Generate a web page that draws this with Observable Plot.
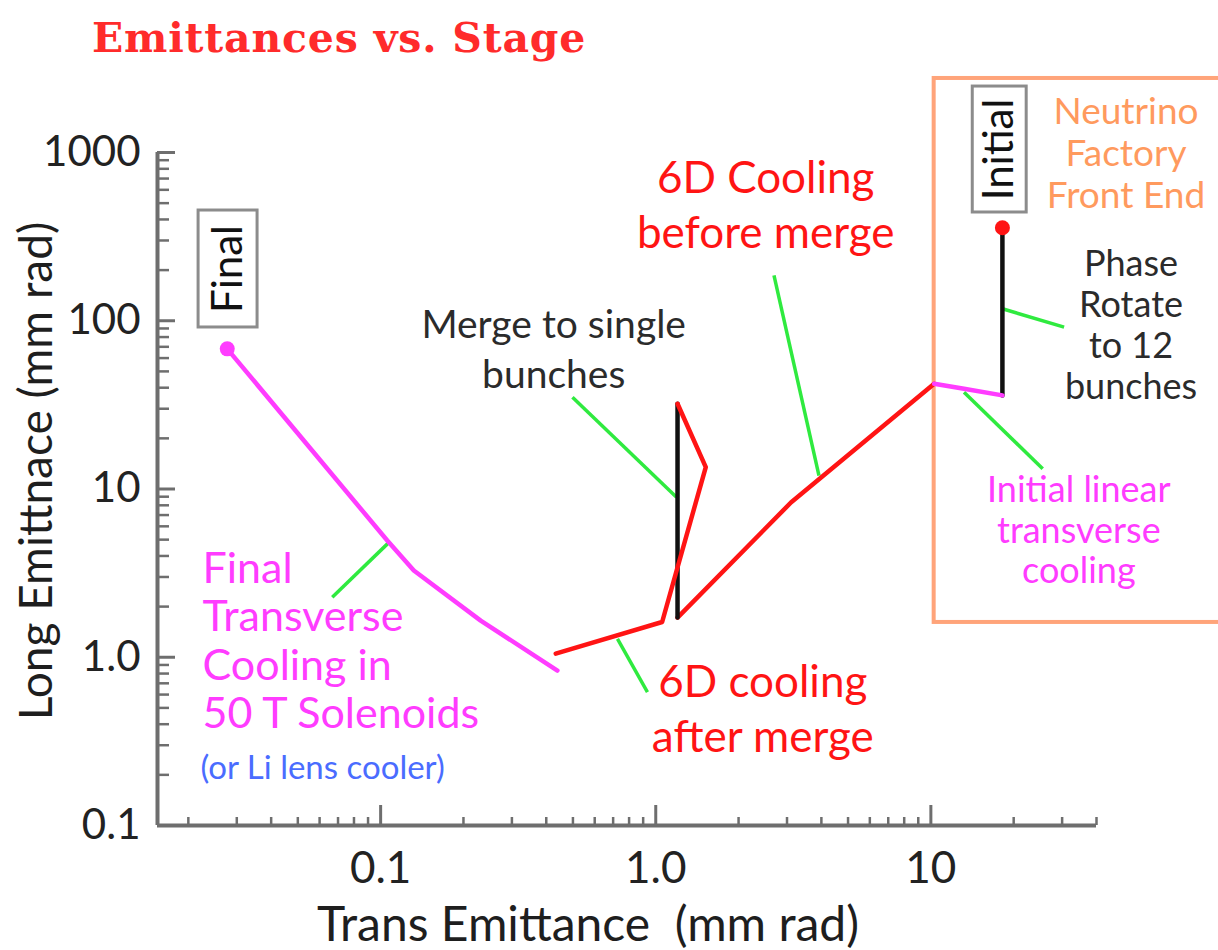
<!DOCTYPE html>
<html>
<head>
<meta charset="utf-8">
<script src="https://cdn.jsdelivr.net/npm/d3@7"></script>
<script src="https://cdn.jsdelivr.net/npm/@observablehq/plot@0.6"></script>
<style>
  html, body { margin: 0; padding: 0; background: #fff; }
  #wrap { position: relative; width: 1218px; height: 950px; overflow: hidden; }
  #chart svg { display: block; }
  #title {
    position: absolute; left: 92px; top: 18px; margin: 0;
    font-family: "DejaVu Serif", "Liberation Serif", serif; font-weight: bold;
    font-size: 41px; line-height: 41px; color: #ff2b2b; white-space: nowrap;
    letter-spacing: 0.8px;
  }
</style>
</head>
<body>
<div id="wrap">
  <div id="chart"></div>
  <h1 id="title">Emittances vs. Stage</h1>
</div>
<script>
// Muon beam emittance (transverse vs. longitudinal, mm rad) through each stage,
// from the neutrino-factory front end down to the final transverse cooler.

// Phase rotation to 12 bunches (vertical drop at fixed transverse emittance)
const phaseRotTrans = [18.2, 18.2];
const phaseRotLong  = [357, 36];

// Initial linear transverse cooling
const initCoolTrans = [18.2, 13.2, 10.28];
const initCoolLong  = [36, 39.4, 42.2];

// 6D cooling before merge
const preMergeTrans = [10.28, 3.10, 1.2];
const preMergeLong  = [42.2, 8.31, 1.72];

// Merge to single bunches
const mergeTrans = [1.2, 1.2];
const mergeLong  = [1.72, 32.1];

// 6D cooling after merge
const postMergeTrans = [1.2, 1.52, 1.055, 0.433];
const postMergeLong  = [32.1, 13.5, 1.62, 1.05];

// Final transverse cooling in 50 T solenoids
const finalCoolTrans = [0.439, 0.231, 0.132, 0.1057, 0.0277];
const finalCoolLong  = [0.834, 1.65, 3.28, 4.94, 68.1];

// Start and end points of the whole path
const initialPoint = [{x: 18.2, y: 357}];
const finalPoint   = [{x: 0.0277, y: 68.1}];

// Leader lines from each annotation to its segment: [x1, y1, x2, y2]
const leaders = [
  [0.0667, 2.275, 0.107, 4.8],     // final transverse cooling
  [0.498, 35.1, 1.19, 8.94],       // merge
  [2.69, 185.8, 3.92, 12.0],       // 6D cooling before merge
  [0.726, 1.287, 0.933, 0.62],     // 6D cooling after merge
  [18.2, 117.8, 30.5, 91.6],       // phase rotate
  [13.2, 37.6, 25.5, 13.2]         // initial linear cooling
];

// Axis ticks
const xMajor = [0.1, 1, 10];
const xMajorLabels = ["0.1", "1.0", "10"];
const yMajor = [0.1, 1, 10, 100, 1000];
const yMajorLabels = ["0.1", "1.0", "10", "100", "1000"];

const xDomain = [0.01545, 40];
const yDomain = [0.1, 1000];

const W = 1218, H = 950;
const M = {top: 152, right: 122, bottom: 125, left: 157};
const frameW = W - M.left - M.right;
const frameH = H - M.top - M.bottom;

const sans = "Lato, 'Open Sans', 'DejaVu Sans', sans-serif";
const RED = "#ff1414", MAGENTA = "#ff3cff", GREEN = "#2fea3f", AXIS = "#6e6e6e";
const DARK = "#2b2b2b", ORANGE = "#ff9a5e";

const pts = (xs, ys) => xs.map((x, i) => ({x, y: ys[i]}));
const links = leaders.map(([x1, y1, x2, y2]) => ({x1, y1, x2, y2}));

const xMinor = d3.scaleLog().domain(xDomain).ticks().filter(t => !xMajor.some(m => Math.abs(m - t) < 1e-9));
const yMinor = d3.scaleLog().domain(yDomain).ticks().filter(t => !yMajor.some(m => Math.abs(m - t) < 1e-9));

const lineOpts = (stroke) => ({x: "x", y: "y", stroke, strokeWidth: 4.5, strokeLinejoin: "round", strokeLinecap: "round"});

function note(lines, x, y, opts) {
  return Plot.text([lines.join("\n")], {x, y, text: d => d, lineAnchor: "bottom", fontFamily: sans, ...opts});
}

const chart = Plot.plot({
  width: W, height: H,
  marginTop: M.top, marginRight: M.right, marginBottom: M.bottom, marginLeft: M.left,
  x: {type: "log", domain: xDomain},
  y: {type: "log", domain: yDomain},
  style: {fontFamily: sans, background: "#fff", overflow: "hidden"},
  marks: [
    // Neutrino factory front-end region
    Plot.rect([0], {x1: 10.28, x2: 300, y1: 1.61, y2: 2754, fill: "none", stroke: "#ffa47a", strokeWidth: 4}),

    // axes frame lines and inward ticks
    Plot.ruleX([xDomain[0]], {stroke: AXIS, strokeWidth: 4}),
    Plot.ruleY([yDomain[0]], {stroke: AXIS, strokeWidth: 4}),
    Plot.tickY(yMinor, {y: d => d, stroke: AXIS, strokeWidth: 2.5, insetRight: frameW - 12}),
    Plot.tickY(yMajor, {y: d => d, stroke: AXIS, strokeWidth: 3, insetRight: frameW - 18}),
    Plot.tickX(xMinor, {x: d => d, stroke: AXIS, strokeWidth: 2.5, insetTop: frameH - 8}),
    Plot.tickX(xMajor, {x: d => d, stroke: AXIS, strokeWidth: 3, insetTop: frameH - 20}),
    Plot.axisY({ticks: yMajor, tickFormat: d => yMajorLabels[yMajor.indexOf(d)], tickSize: 0, tickPadding: 17,
      fontSize: 42, fill: "#222", label: null}),
    Plot.axisX({ticks: xMajor, tickFormat: d => xMajorLabels[xMajor.indexOf(d)], tickSize: 0, tickPadding: 26,
      fontSize: 44, fill: "#222", label: null}),
    Plot.text(["Long Emittnace (mm rad)"], {frameAnchor: "left", textAnchor: "middle", rotate: -90, dx: -120, dy: -18,
      fontSize: 46, fill: "#1e1e1e", fontFamily: sans}),
    Plot.text(["Trans Emittance \u00a0(mm rad)"], {frameAnchor: "bottom", lineAnchor: "bottom", dx: -39, dy: 115,
      fontSize: 48, fill: "#1e1e1e", fontFamily: sans}),

    // leaders
    Plot.link(links, {x1: "x1", y1: "y1", x2: "x2", y2: "y2", stroke: GREEN, strokeWidth: 3.5}),

    // stage path
    Plot.line(pts(preMergeTrans, preMergeLong), lineOpts(RED)),
    Plot.line(pts(mergeTrans, mergeLong), lineOpts("#111")),
    Plot.line(pts(postMergeTrans, postMergeLong), lineOpts(RED)),
    Plot.line(pts(phaseRotTrans, phaseRotLong), lineOpts("#111")),
    Plot.line(pts(initCoolTrans, initCoolLong), lineOpts(MAGENTA)),
    Plot.line(pts(finalCoolTrans, finalCoolLong), lineOpts(MAGENTA)),
    Plot.dot(initialPoint, {x: "x", y: "y", r: 7.5, fill: RED}),
    Plot.dot(finalPoint, {x: "x", y: "y", r: 7.5, fill: MAGENTA}),

    // stage labels in boxes
    Plot.rect([0], {x1: 0.02179, x2: 0.0357, y1: 91.2, y2: 452, fill: "#fff", stroke: "#8c8c8c", strokeWidth: 3}),
    Plot.text(["Final"], {x: 0.0279, y: 203, rotate: -90, fontSize: 42, fill: "#111", fontFamily: sans}),
    Plot.rect([0], {x1: 14.2, x2: 22.3, y1: 440, y2: 2466, fill: "#fff", stroke: "#8c8c8c", strokeWidth: 3}),
    Plot.text(["Initial"], {x: 17.8, y: 1042, rotate: -90, fontSize: 42, fill: "#111", fontFamily: sans}),

    // annotations
    note(["Neutrino", "Factory", "Front End"], 51.2, 471, {fill: ORANGE, fontSize: 37, lineHeight: 1.13}),
    note(["Phase", "Rotate", "to 12", "bunches"], 53.4, 34.5, {fill: DARK, fontSize: 36, lineHeight: 1.13}),
    note(["Initial linear", "transverse", "cooling"], 34.5, 2.744, {fill: MAGENTA, fontSize: 36, lineHeight: 1.13}),
    note(["6D Cooling", "before merge"], 2.51, 268.8, {fill: RED, fontSize: 44, lineHeight: 1.25}),
    note(["Merge to single", "bunches"], 0.4256, 40.1, {fill: DARK, fontSize: 39, lineHeight: 1.26}),
    note(["6D cooling", "after merge"], 2.449, 0.2716, {fill: RED, fontSize: 44, lineHeight: 1.25}),
    note(["Final", "Transverse", "Cooling in", "50 T Solenoids"], 0.02253, 0.3772,
      {fill: MAGENTA, fontSize: 43, lineHeight: 1.13, textAnchor: "start"}),
    note(["(or Li lens cooler)"], 0.02215, 0.1902, {fill: "#4a6cff", fontSize: 33, textAnchor: "start"})
  ]
});

document.getElementById("chart").appendChild(chart);
</script>
</body>
</html>
